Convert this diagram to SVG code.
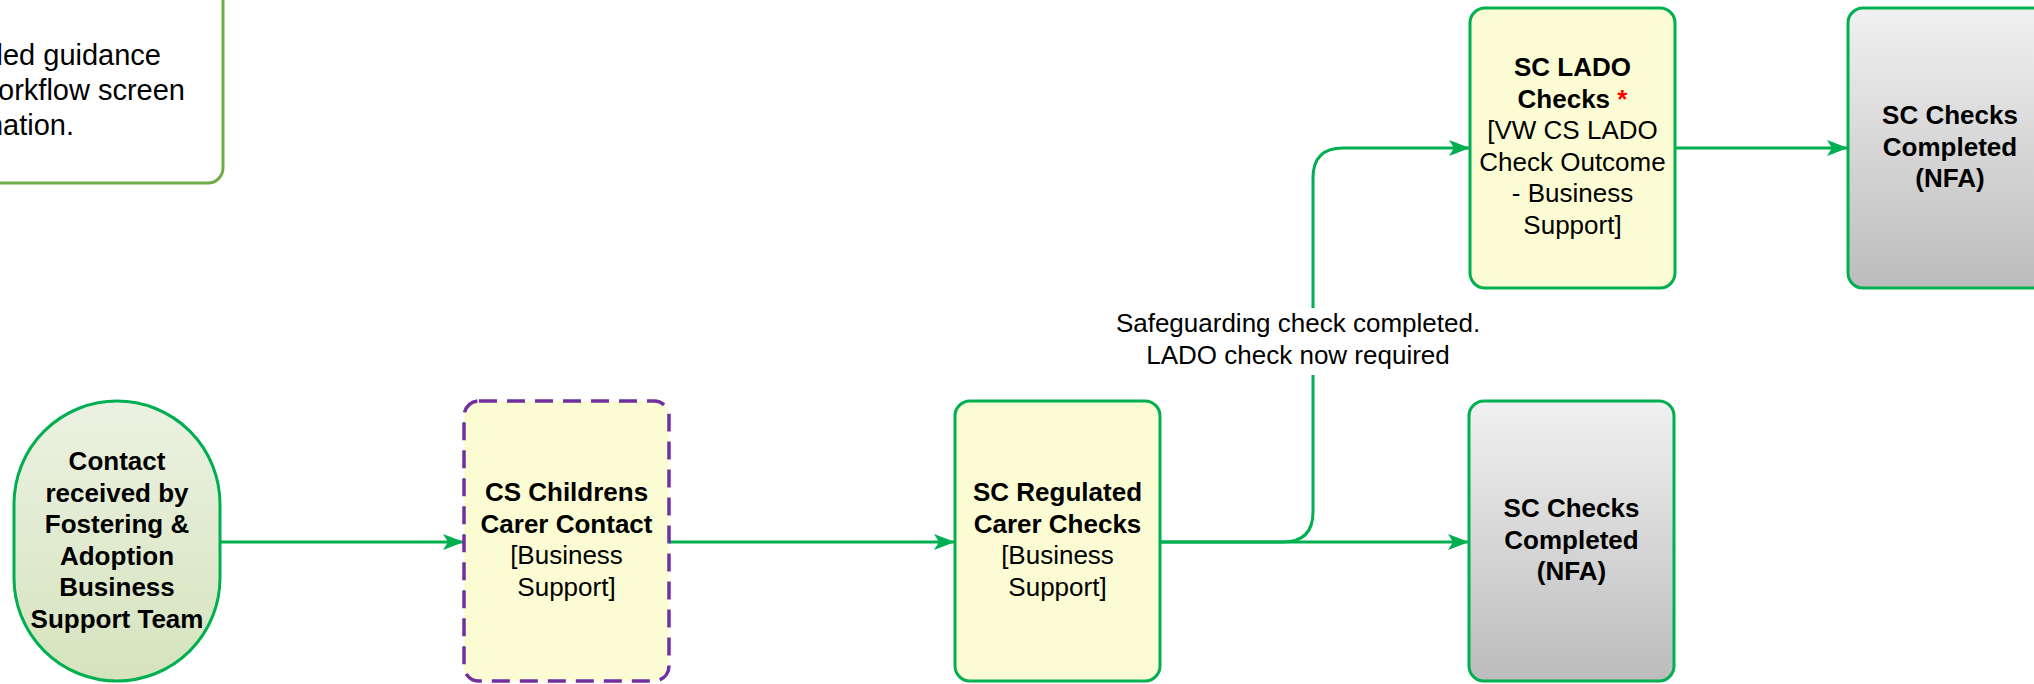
<svg xmlns="http://www.w3.org/2000/svg" width="2034" height="684" viewBox="0 0 2034 684">
<defs>
<linearGradient id="gGreen" x1="0" y1="0" x2="0" y2="1"><stop offset="0" stop-color="#ecf2e2"/><stop offset="1" stop-color="#d5e3bd"/></linearGradient>
<linearGradient id="gGrey" x1="0" y1="0" x2="0" y2="1"><stop offset="0" stop-color="#f1f1f1"/><stop offset="1" stop-color="#bcbcbc"/></linearGradient>
<marker id="arr" markerWidth="22" markerHeight="20" refX="20" refY="10" orient="auto" markerUnits="userSpaceOnUse"><path d="M0,2 L21,10 L0,18 L5,10 z" fill="#00b050"/></marker>
<style>
.t{font-family:"Liberation Sans",Arial,sans-serif;font-size:26px;fill:#000;text-anchor:middle}
.b{font-weight:bold}
.n{font-family:"Liberation Sans",Arial,sans-serif;font-size:29px;fill:#000;text-anchor:end}
.box{fill:#fbfcd3;stroke:#00b050;stroke-width:3}
.grey{fill:url(#gGrey);stroke:#00b050;stroke-width:3}
.edge{fill:none;stroke:#00b050;stroke-width:3}
</style>
</defs>
<g id="note">
<rect x="-300" y="-20" width="523" height="203" rx="15" fill="#fff" stroke="#70ad47" stroke-width="3"/>
<text class="n" x="161" y="65">led guidance</text>
<text class="n" x="185" y="100">workflow screen</text>
<text class="n" x="74" y="135">nation.</text>
</g>
<g id="connectors">
<path class="edge" d="M220,542 H463" marker-end="url(#arr)"/>
<path class="edge" d="M669,542 H954" marker-end="url(#arr)"/>
<path class="edge" d="M1160,542 H1468" marker-end="url(#arr)"/>
<path class="edge" d="M1160,542 H1283 Q1313,542 1313,512 V178 Q1313,148 1343,148 H1469" marker-end="url(#arr)"/>
<path class="edge" d="M1675,148 H1847" marker-end="url(#arr)"/>
<g id="edge-label">
<rect x="1118" y="308" width="362" height="67" fill="#fff"/>
<text class="t" x="1298" y="332">Safeguarding check completed.</text>
<text class="t" x="1298" y="364">LADO check now required</text>
</g>
</g>
<g id="contact">
<rect x="14" y="401" width="206" height="280" rx="103" ry="103" fill="url(#gGreen)" stroke="#00b050" stroke-width="3"/>
<text class="t b" x="117" y="470">Contact</text>
<text class="t b" x="117" y="501.5">received by</text>
<text class="t b" x="117" y="533">Fostering &amp;</text>
<text class="t b" x="117" y="564.5">Adoption</text>
<text class="t b" x="117" y="596">Business</text>
<text class="t b" x="117" y="627.5">Support Team</text>
</g>
<g id="cs-childrens">
<rect x="464" y="401" width="205" height="280" rx="15" fill="#fbfcd3" stroke="#7030a0" stroke-width="3.5" stroke-dasharray="18 10"/>
<text class="t b" x="566.5" y="501">CS Childrens</text>
<text class="t b" x="566.5" y="532.5">Carer Contact</text>
<text class="t" x="566.5" y="564">[Business</text>
<text class="t" x="566.5" y="595.5">Support]</text>
</g>
<g id="sc-regulated">
<rect class="box" x="955" y="401" width="205" height="280" rx="15"/>
<text class="t b" x="1057.5" y="501">SC Regulated</text>
<text class="t b" x="1057.5" y="532.5">Carer Checks</text>
<text class="t" x="1057.5" y="564">[Business</text>
<text class="t" x="1057.5" y="595.5">Support]</text>
</g>
<g id="nfa-bottom">
<rect class="grey" x="1469" y="401" width="205" height="280" rx="15"/>
<text class="t b" x="1571.5" y="517">SC Checks</text>
<text class="t b" x="1571.5" y="548.5">Completed</text>
<text class="t b" x="1571.5" y="580">(NFA)</text>
</g>
<g id="sc-lado">
<rect class="box" x="1470" y="8" width="205" height="280" rx="15"/>
<text class="t b" x="1572.5" y="76">SC LADO</text>
<text class="t b" x="1572.5" y="107.5">Checks <tspan fill="#ff0000">*</tspan></text>
<text class="t" x="1572.5" y="139">[VW CS LADO</text>
<text class="t" x="1572.5" y="170.5">Check Outcome</text>
<text class="t" x="1572.5" y="202">- Business</text>
<text class="t" x="1572.5" y="233.5">Support]</text>
</g>
<g id="nfa-top">
<rect class="grey" x="1848" y="8" width="204" height="280" rx="15"/>
<text class="t b" x="1950" y="124">SC Checks</text>
<text class="t b" x="1950" y="155.5">Completed</text>
<text class="t b" x="1950" y="187">(NFA)</text>
</g>
</svg>
